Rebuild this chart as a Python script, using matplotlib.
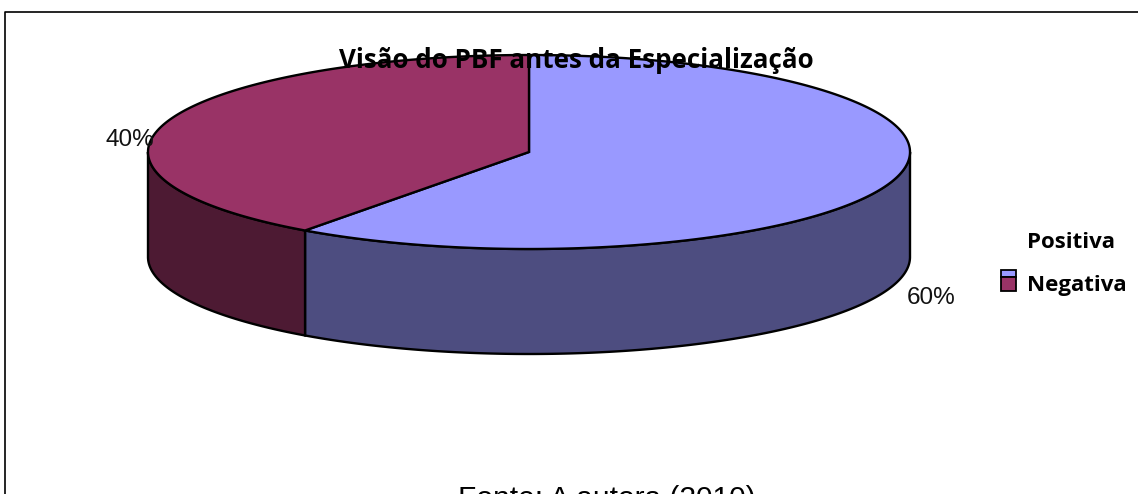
import numpy as np
import matplotlib
matplotlib.use('Agg')
import matplotlib.pyplot as plt
from matplotlib.patches import Polygon, Rectangle

# dados do grafico
labels = ['Positiva', 'Negativa']
shares = [60, 40]
top_colors = ['#9999FF', '#993366']
side_colors = ['#4D4D80', '#4D1A33']
title = 'Visão do PBF antes da Especialização'
source = 'Fonte: A autora (2010)'

W, H = 1138, 494
CX, CY, RX, RY, DEPTH = 529, 152, 381, 97, 105


def rim(a0, a1, dy=0):
    # angulos em graus, sentido horario a partir do topo
    t = np.radians(np.linspace(a0, a1, 300))
    return np.column_stack([CX + RX * np.sin(t), CY + dy - RY * np.cos(t)])


fig = plt.figure(figsize=(W / 100, H / 100), dpi=100)
ax = fig.add_axes([0, 0, 1, 1])
ax.set_xlim(0, W)
ax.set_ylim(H, 0)
ax.axis('off')

# moldura: so esquerda e topo aparecem, o resto sai da imagem
ax.plot([5, 5, W + 5], [H + 5, 12, 12], color='black', linewidth=1.2, zorder=1)

angles = np.cumsum([0] + shares) * 3.6

# lateral visivel (so a parte da frente, 90 a 270 graus)
for i in range(len(shares)):
    a0 = max(angles[i], 90)
    a1 = min(angles[i + 1], 270)
    if a1 > a0:
        pts = np.vstack([rim(a0, a1), rim(a0, a1, DEPTH)[::-1]])
        ax.add_patch(Polygon(pts, closed=True, facecolor=side_colors[i], edgecolor='black', linewidth=1.7, zorder=2))

# topo
for i in range(len(shares)):
    pts = np.vstack([[CX, CY], rim(angles[i], angles[i + 1])])
    ax.add_patch(Polygon(pts, closed=True, facecolor=top_colors[i], edgecolor='black', linewidth=1.7, zorder=3))

ax.text(576.5, 60, title, family='Open Sans', fontweight='bold', fontsize=18.7, ha='center', va='center', color='black', zorder=5)
ax.text(931, 298, f'{shares[0]}%', family='Liberation Sans', fontsize=17.5, ha='center', va='center', color='#111111', zorder=5)
ax.text(130, 140, f'{shares[1]}%', family='Liberation Sans', fontsize=17.5, ha='center', va='center', color='#111111', zorder=5)

# legenda
ax.text(1027, 242, labels[0], family='Open Sans', fontweight='bold', fontsize=16, ha='left', va='center')
ax.text(1027, 285, labels[1], family='Open Sans', fontweight='bold', fontsize=16, ha='left', va='center')
ax.add_patch(Rectangle((1001, 270), 15, 7, facecolor=top_colors[0], edgecolor='black', linewidth=1.3))
ax.add_patch(Rectangle((1001, 277), 15, 14, facecolor=top_colors[1], edgecolor='black', linewidth=1.3))

ax.text(607, 499, source, family='Liberation Sans', fontsize=21.5, ha='center', va='center', color='black', clip_on=True)

fig.savefig('out.png', dpi=100)
